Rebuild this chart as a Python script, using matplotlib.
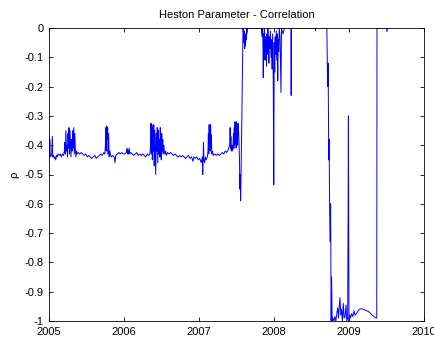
import matplotlib
matplotlib.use("Agg")
import matplotlib.pyplot as plt

plt.rcParams['font.family'] = ['Liberation Sans', 'DejaVu Sans']
plt.rcParams['axes.unicode_minus'] = False

title = "Heston Parameter - Correlation"
ylabel = "ρ"
xticks = [2005, 2006, 2007, 2008, 2009, 2010]
xticklabels = ["2005", "2006", "2007", "2008", "2009", "2010"]
yticks = [0, -0.1, -0.2, -0.3, -0.4, -0.5, -0.6, -0.7, -0.8, -0.9, -1.0]
yticklabels = ["0", "-0.1", "-0.2", "-0.3", "-0.4", "-0.5", "-0.6", "-0.7", "-0.8", "-0.9", "-1"]

# time (decimal years) and correlation estimates
t_2005 = [2005.000, 2005.005, 2005.010, 2005.015, 2005.025, 2005.035, 2005.045, 2005.050, 2005.060, 2005.070,
          2005.080, 2005.090, 2005.100, 2005.110, 2005.120, 2005.135, 2005.150, 2005.165, 2005.180, 2005.195,
          2005.205, 2005.212, 2005.218, 2005.225, 2005.232, 2005.240, 2005.247, 2005.253, 2005.260, 2005.267,
          2005.272, 2005.280, 2005.287, 2005.293, 2005.300, 2005.307, 2005.315, 2005.322, 2005.330, 2005.337,
          2005.345, 2005.352, 2005.360, 2005.367, 2005.375, 2005.39, 2005.41, 2005.43, 2005.45, 2005.47,
          2005.49, 2005.51, 2005.53, 2005.55, 2005.57, 2005.59, 2005.61, 2005.63, 2005.65, 2005.67,
          2005.69, 2005.71, 2005.73, 2005.745, 2005.752, 2005.758, 2005.764, 2005.770, 2005.776, 2005.782,
          2005.788, 2005.795, 2005.802, 2005.810, 2005.818, 2005.83, 2005.85, 2005.87, 2005.88, 2005.89,
          2005.91, 2005.93, 2005.95, 2005.97, 2005.99]
r_2005 = [-0.37, -0.44, -0.38, -0.43, -0.44, -0.43, -0.37, -0.44, -0.435, -0.445,
          -0.44, -0.45, -0.435, -0.44, -0.43, -0.435, -0.43, -0.44, -0.43, -0.435,
          -0.42, -0.39, -0.43, -0.35, -0.42, -0.40, -0.44, -0.36, -0.41, -0.34,
          -0.43, -0.35, -0.40, -0.44, -0.38, -0.42, -0.35, -0.41, -0.34, -0.43,
          -0.36, -0.42, -0.44, -0.42, -0.43, -0.425, -0.43, -0.425, -0.43, -0.435,
          -0.43, -0.44, -0.435, -0.44, -0.445, -0.44, -0.435, -0.445, -0.44, -0.435,
          -0.43, -0.435, -0.425, -0.43, -0.40, -0.34, -0.42, -0.335, -0.38, -0.34,
          -0.43, -0.36, -0.44, -0.42, -0.43, -0.44, -0.435, -0.44, -0.46, -0.435,
          -0.43, -0.425, -0.43, -0.425, -0.43]

t_2006 = [2006.01, 2006.03, 2006.04, 2006.045, 2006.05, 2006.06, 2006.07, 2006.075, 2006.09, 2006.11,
          2006.13, 2006.15, 2006.17, 2006.19, 2006.21, 2006.23, 2006.25, 2006.27, 2006.29, 2006.31,
          2006.33, 2006.345, 2006.355, 2006.36, 2006.365, 2006.372, 2006.378, 2006.385, 2006.39, 2006.397,
          2006.403, 2006.41, 2006.417, 2006.423, 2006.43, 2006.437, 2006.443, 2006.45, 2006.457, 2006.463,
          2006.47, 2006.477, 2006.483, 2006.49, 2006.497, 2006.503, 2006.51, 2006.517, 2006.523, 2006.53,
          2006.537, 2006.545, 2006.555, 2006.565, 2006.58, 2006.60, 2006.62, 2006.64, 2006.66, 2006.68,
          2006.70, 2006.72, 2006.74, 2006.76, 2006.78, 2006.80, 2006.82, 2006.84, 2006.86, 2006.88,
          2006.90, 2006.92, 2006.93, 2006.95, 2006.97, 2006.99]
r_2006 = [-0.43, -0.425, -0.41, -0.43, -0.415, -0.43, -0.41, -0.43, -0.425, -0.43,
          -0.435, -0.43, -0.425, -0.435, -0.43, -0.435, -0.43, -0.435, -0.44, -0.43,
          -0.435, -0.43, -0.40, -0.325, -0.43, -0.33, -0.45, -0.34, -0.42, -0.33,
          -0.47, -0.35, -0.44, -0.50, -0.36, -0.42, -0.34, -0.46, -0.35, -0.43,
          -0.38, -0.44, -0.34, -0.41, -0.45, -0.36, -0.42, -0.38, -0.43, -0.40,
          -0.42, -0.43, -0.42, -0.435, -0.425, -0.43, -0.425, -0.43, -0.435, -0.43,
          -0.435, -0.44, -0.435, -0.44, -0.435, -0.44, -0.445, -0.44, -0.435, -0.445,
          -0.44, -0.455, -0.44, -0.445, -0.44, -0.45]

t_2007 = [2007.01, 2007.03, 2007.045, 2007.05, 2007.055, 2007.06, 2007.065, 2007.075, 2007.085, 2007.095,
          2007.11, 2007.12, 2007.125, 2007.13, 2007.135, 2007.14, 2007.145, 2007.15, 2007.155, 2007.16,
          2007.165, 2007.17, 2007.18, 2007.19, 2007.21, 2007.23, 2007.25, 2007.27, 2007.29, 2007.31,
          2007.33, 2007.35, 2007.37, 2007.39, 2007.41, 2007.415, 2007.42, 2007.425, 2007.43, 2007.44,
          2007.45, 2007.46, 2007.465, 2007.47, 2007.475, 2007.48, 2007.485, 2007.49, 2007.495, 2007.50,
          2007.505, 2007.51, 2007.515, 2007.52, 2007.53, 2007.54, 2007.545, 2007.55, 2007.555, 2007.56,
          2007.587, 2007.595, 2007.60, 2007.605, 2007.61, 2007.615, 2007.62, 2007.625, 2007.63, 2007.635,
          2007.64, 2007.65, 2007.83, 2007.84, 2007.845, 2007.85, 2007.857, 2007.862, 2007.868, 2007.873,
          2007.88, 2007.886, 2007.892, 2007.90, 2007.906, 2007.912, 2007.918, 2007.925, 2007.932, 2007.938,
          2007.945, 2007.952, 2007.96, 2007.968, 2007.975, 2007.982, 2007.99, 2007.997]
r_2007 = [-0.445, -0.46, -0.44, -0.50, -0.44, -0.39, -0.45, -0.46, -0.44, -0.45,
          -0.44, -0.42, -0.36, -0.43, -0.33, -0.40, -0.35, -0.42, -0.33, -0.41,
          -0.365, -0.43, -0.42, -0.435, -0.43, -0.435, -0.43, -0.435, -0.43, -0.425,
          -0.43, -0.42, -0.425, -0.415, -0.40, -0.34, -0.41, -0.37, -0.42, -0.40,
          -0.42, -0.36, -0.41, -0.34, -0.40, -0.32, -0.39, -0.33, -0.41, -0.32,
          -0.38, -0.33, -0.40, -0.325, -0.36, -0.45, -0.55, -0.50, -0.59, -0.52,
          0.0, -0.02, -0.05, -0.01, -0.07, -0.03, -0.06, -0.02, -0.04, 0.0,
          -0.02, 0.0, 0.0, -0.03, 0.0, 0.0, -0.17, -0.02, -0.08, 0.0,
          -0.11, -0.03, -0.06, -0.13, -0.02, -0.09, 0.0, -0.05, -0.12, -0.03,
          -0.07, -0.01, -0.10, -0.04, -0.14, -0.02, -0.18, -0.535]

t_2008 = [2008.003, 2008.01, 2008.016, 2008.022, 2008.03, 2008.037, 2008.044, 2008.05, 2008.056, 2008.063,
          2008.07, 2008.08, 2008.093, 2008.10, 2008.12, 2008.14, 2008.227, 2008.229, 2008.232, 2008.55,
          2008.553, 2008.556, 2008.705, 2008.715, 2008.722, 2008.73, 2008.735, 2008.742, 2008.75, 2008.755,
          2008.762, 2008.768, 2008.775, 2008.785, 2008.80, 2008.813, 2008.825, 2008.84, 2008.85, 2008.86,
          2008.87, 2008.88, 2008.89, 2008.90, 2008.912, 2008.924, 2008.935, 2008.947, 2008.96, 2008.97,
          2008.982, 2008.988, 2008.992, 2008.996]
r_2008 = [-0.05, -0.15, -0.03, -0.09, -0.01, -0.11, -0.02, -0.18, -0.04, -0.08,
          0.0, -0.03, -0.22, 0.0, -0.02, 0.0, 0.0, -0.23, 0.0, 0.0,
          -0.01, 0.0, 0.0, -0.20, -0.12, -0.45, -0.38, -0.62, -0.73, -0.60,
          -1.0, -0.85, -1.0, -0.99, -1.0, -0.985, -1.0, -0.97, -0.955, -0.99,
          -0.95, -0.92, -0.98, -0.96, -1.0, -0.94, -0.99, -0.985, -0.945, -1.0,
          -0.99, -0.65, -0.30, -0.70]

t_2009 = [2009.00, 2009.01, 2009.02, 2009.035, 2009.05, 2009.067, 2009.08, 2009.10, 2009.12, 2009.14,
          2009.17, 2009.19, 2009.21, 2009.236, 2009.26, 2009.28, 2009.30, 2009.32, 2009.347, 2009.36,
          2009.37, 2009.373, 2009.45, 2009.50, 2009.507, 2009.515, 2009.55]
r_2009 = [-1.0, -0.98, -0.99, -0.975, -0.985, -0.965, -0.98, -0.975, -0.965, -0.96,
          -0.958, -0.96, -0.962, -0.965, -0.968, -0.972, -0.978, -0.982, -0.987, -0.99,
          -0.99, 0.0, 0.0, 0.0, -0.012, 0.0, 0.0]

t = t_2005 + t_2006 + t_2007 + t_2008 + t_2009
rho = r_2005 + r_2006 + r_2007 + r_2008 + r_2009

fig = plt.figure(figsize=(4.35, 3.4), dpi=100, facecolor='white')
ax = fig.add_axes([49/435, 19/340, 375/435, 293/340])
ax.plot(t, rho, color=(0, 0, 1), linewidth=0.7)
ax.set_xlim(2005, 2010)
ax.set_ylim(-1, 0)
ax.set_xticks(xticks)
ax.set_xticklabels(xticklabels)
ax.set_yticks(yticks)
ax.set_yticklabels(yticklabels)
ax.tick_params(direction='in', length=3, width=0.6, top=True, right=True,
               labelsize=8, colors='black', pad=4)
for s in ax.spines.values():
    s.set_linewidth(0.6)
    s.set_color('black')
ax.set_title(title, fontsize=8, pad=7)
ax.set_ylabel(ylabel, fontsize=8, labelpad=4)
fig.savefig("out.png", dpi=100, facecolor='white')
